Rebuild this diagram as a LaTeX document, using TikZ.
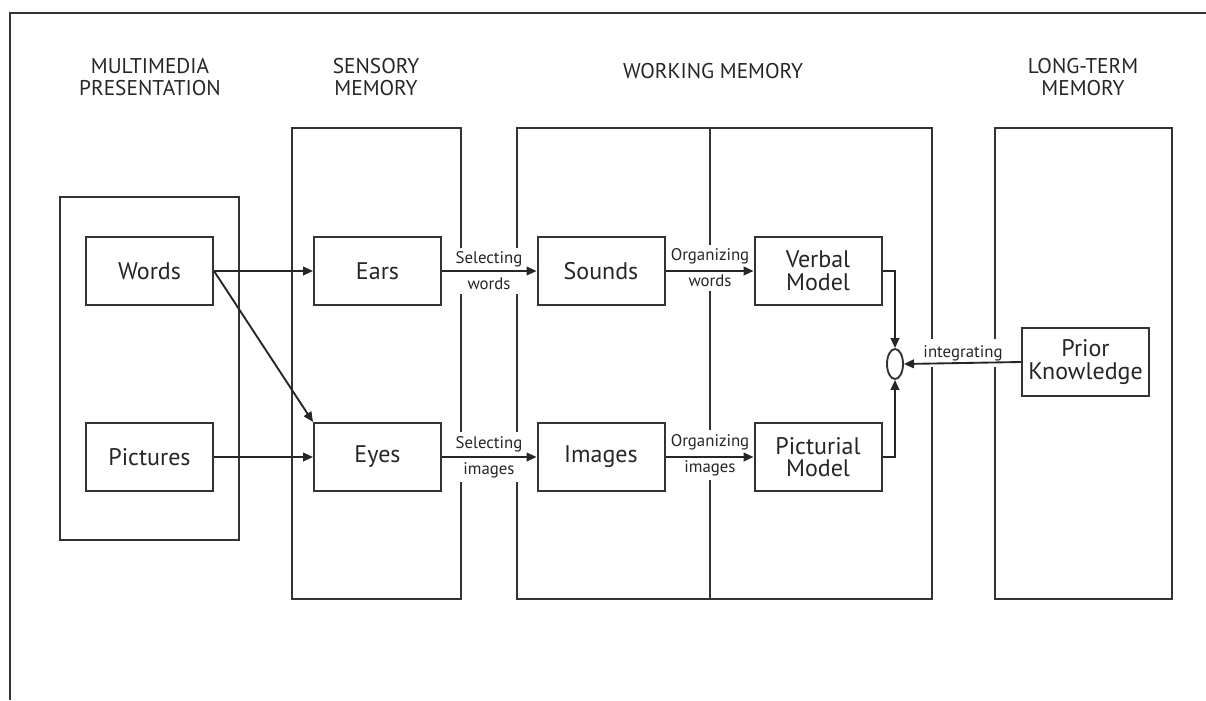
\documentclass[tikz,border=0pt]{standalone}
\usepackage{fontspec}
\setmainfont{PT Sans}
\usetikzlibrary{arrows.meta,shapes.geometric}
\begin{document}
\begin{tikzpicture}[x=0.75pt,y=-0.75pt,
  every node/.style={text=black!85},
  frame/.style={draw=black!80, line width=1.5pt},
  box/.style={draw=black!80, line width=1.5pt, minimum width=95.25pt, minimum height=51pt, inner sep=0pt, font=\fontsize{18}{17}\selectfont, align=center},
  title/.style={font=\fontsize{16}{16}\selectfont, align=center},
  lbl/.style={fill=white, font=\fontsize{12.6}{19.5}\selectfont, align=center, inner xsep=1pt, inner ysep=3pt},
  arr/.style={draw=black!85, line width=1.4pt, -{Triangle[length=7.5pt,width=6.5pt]}}
]
\useasboundingbox (0,0) rectangle (1206,700);
\fill[white] (0,0) rectangle (1206,700);
\draw[frame] (10,700) -- (10,13) -- (1206,13);

% titles
\node[title] (tmm) at (150,77) {MULTIMEDIA\\PRESENTATION};
\node[title] (tsm) at (376,77) {SENSORY\\MEMORY};
\node[title] (twm) at (713,71) {WORKING MEMORY};
\node[title] (tlm) at (1083,77) {LONG-TERM\\MEMORY};

% column frames
\draw[frame] (60,197) rectangle (239,540);
\draw[frame] (292,128) rectangle (461,599);
\draw[frame] (517,128) rectangle (932,599);
\draw[frame] (710,128) -- (710,599);
\draw[frame] (995,128) rectangle (1172,599);

% labels (white fill covers the frame lines)
\node[lbl] (sw) at (489,271) {Selecting\\words};
\node[lbl] (si) at (489,457) {Selecting\\images};
\node[lbl] (ow) at (710,268) {Organizing\\words};
\node[lbl] (oi) at (710,455) {Organizing\\images};
\node[lbl, inner ysep=5pt] (ig) at (963,353) {integrating};

% boxes
\node[box] (words) at (149.5,271) {Words};
\node[box] (pics) at (149.5,457) {Pictures};
\node[box] (ears) at (377.5,271) {Ears};
\node[box] (eyes) at (377.5,457) {Eyes};
\node[box] (sounds) at (601,271) {Sounds};
\node[box] (images) at (601,457) {Images};
\node[box] (verbal) at (818,271) {Verbal\\Model};
\node[box] (pict) at (818,457) {Picturial\\Model};
\node[box] (prior) at (1085.5,362) {Prior\\Knowledge};
\node[draw=black!80, line width=1.4pt, ellipse, minimum width=12pt, minimum height=22.5pt, inner sep=0pt] (int) at (895,364) {};

% connectors
\draw[arr] (words.east) -- (ears.west);
\draw[arr] (words.east) -- (eyes.north west);
\draw[arr] (pics.east) -- (eyes.west);
\draw[arr] (ears.east) -- (sounds.west);
\draw[arr] (eyes.east) -- (images.west);
\draw[arr] (sounds.east) -- (verbal.west);
\draw[arr] (images.east) -- (pict.west);
\draw[arr] (verbal.east) -| (int.north);
\draw[arr] (pict.east) -| (int.south);
\draw[arr] (prior.west) -- (int.east);
\end{tikzpicture}
\end{document}
